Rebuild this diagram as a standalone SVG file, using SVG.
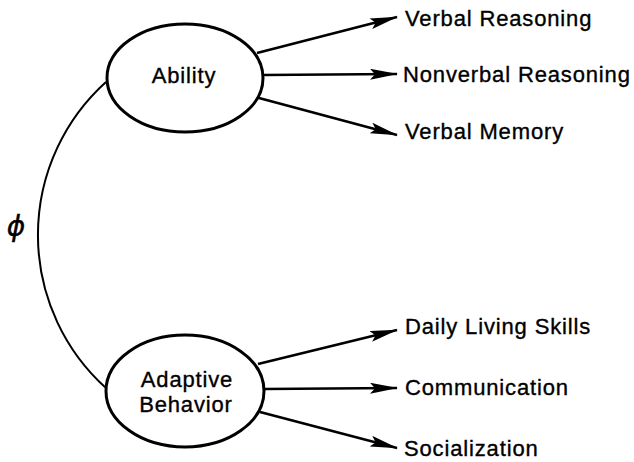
<svg xmlns="http://www.w3.org/2000/svg" width="634" height="462" viewBox="0 0 634 462">
  <style>
    .node { fill: #fff; stroke: #000; stroke-width: 3; }
    .label { font-family: "Liberation Sans", Arial, sans-serif; font-size: 22px; fill: #000; stroke: #000; stroke-width: 0.35; letter-spacing: 0.85px; }
    .edge { stroke: #000; stroke-width: 2.6; fill: none; }
    .corr { stroke: #000; stroke-width: 2; fill: none; }
  </style>
  <defs>
    <marker id="arrow" viewBox="0 0 28 11" refX="27" refY="5.5" markerWidth="28" markerHeight="11" markerUnits="userSpaceOnUse" orient="auto">
      <path d="M0,0 L28,5.5 L0,11 L5,5.5 Z" fill="#000"/>
    </marker>
  </defs>

  <g id="connectors">
    <!-- correlation between latent factors -->
    <path class="corr" d="M106,82 A206,206 0 0 0 106,388"/>
    <line class="edge" x1="257" y1="53" x2="397" y2="17" marker-end="url(#arrow)"/>
    <line class="edge" x1="263" y1="75" x2="397" y2="74" marker-end="url(#arrow)"/>
    <line class="edge" x1="259" y1="98" x2="397" y2="135" marker-end="url(#arrow)"/>
    <line class="edge" x1="258" y1="364" x2="397" y2="330" marker-end="url(#arrow)"/>
    <line class="edge" x1="264" y1="389" x2="397" y2="388" marker-end="url(#arrow)"/>
    <line class="edge" x1="260" y1="412" x2="397" y2="448" marker-end="url(#arrow)"/>
  </g>

  <text id="phi" x="16" y="236" text-anchor="middle" style="font-family: 'DejaVu Sans', sans-serif; font-size: 28px; font-style: italic; stroke: #000; stroke-width: 0.4;">ϕ</text>

  <g id="ability">
    <ellipse class="node" cx="185" cy="78" rx="78" ry="54"/>
    <text class="label" x="184" y="83" text-anchor="middle">Ability</text>
  </g>

  <g id="adaptive">
    <ellipse class="node" cx="185" cy="391" rx="79" ry="56"/>
    <text class="label" x="187" y="387" text-anchor="middle">Adaptive</text>
    <text class="label" x="186" y="412" text-anchor="middle">Behavior</text>
  </g>

  <g id="verbal-reasoning"><text class="label" x="405" y="26">Verbal Reasoning</text></g>
  <g id="nonverbal-reasoning"><text class="label" x="403" y="82">Nonverbal Reasoning</text></g>
  <g id="verbal-memory"><text class="label" x="405" y="139">Verbal Memory</text></g>
  <g id="daily-living"><text class="label" x="405" y="334">Daily Living Skills</text></g>
  <g id="communication"><text class="label" x="405" y="395">Communication</text></g>
  <g id="socialization"><text class="label" x="404" y="456">Socialization</text></g>
</svg>
